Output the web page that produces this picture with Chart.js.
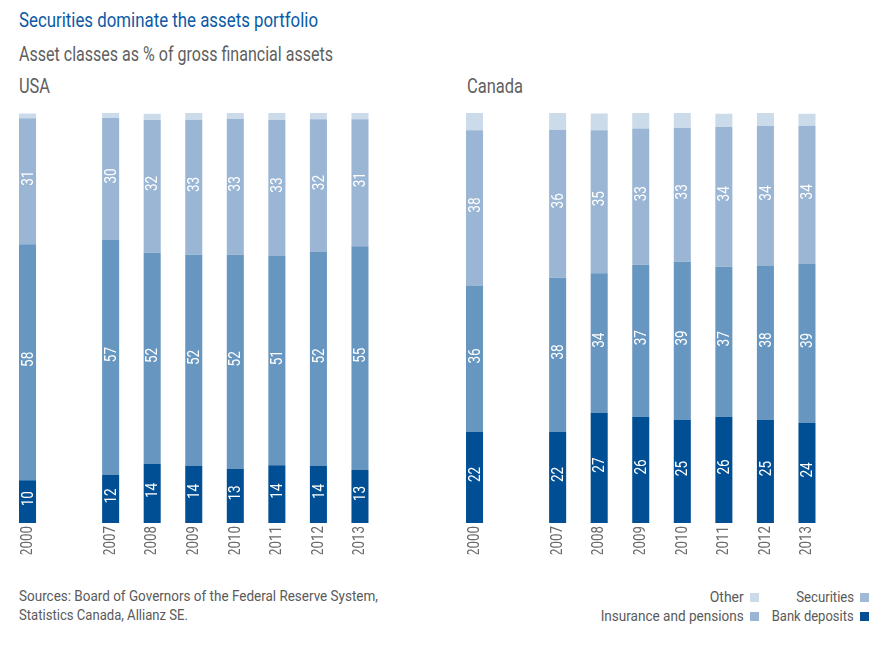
<!DOCTYPE html>
<html>
<head>
<meta charset="utf-8">
<script src="https://cdn.jsdelivr.net/npm/chart.js@4.4.1/dist/chart.umd.min.js"></script>
<style>
  html, body { margin: 0; padding: 0; background: #fff; }
  #wrap { position: relative; width: 888px; height: 645px; overflow: hidden;
          font-family: Roboto, "Liberation Sans", sans-serif; }
  .t { position: absolute; white-space: nowrap; line-height: 1; }
  #title { left: 19px; top: 10px; font-size: 20px; color: #0b5aa6; }
  #sub { left: 19px; top: 44px; font-size: 20px; color: #606060; }
  #usa { left: 19px; top: 76px; font-size: 20px; color: #606060; }
  #can { left: 467px; top: 76px; font-size: 20px; color: #606060; }
  #src1 { left: 19px; top: 589px; font-size: 15.5px; color: #5a5a5a; }
  #src2 { left: 19px; top: 608px; font-size: 15.5px; color: #5a5a5a; }
  .box { position: absolute; }
  #cUS { position: absolute; left: 0; top: 100px; }
  #cCA { position: absolute; left: 444px; top: 100px; }
  .lg { position: absolute; font-size: 15.5px; color: #5a5a5a; white-space: nowrap; line-height: 1; }
  .sq { position: absolute; width: 9px; height: 9px; }
</style>
</head>
<body>
<div id="wrap">
  <div class="t" id="title">Securities dominate the assets portfolio</div>
  <div class="t" id="sub">Asset classes as % of gross financial assets</div>
  <div class="t" id="usa">USA</div>
  <div class="t" id="can">Canada</div>
  <div class="box" id="cUS" style="width:390px;height:470px;"><canvas id="us"></canvas></div>
  <div class="box" id="cCA" style="width:390px;height:470px;"><canvas id="ca"></canvas></div>
  <div class="t" id="src1">Sources: Board of Governors of the Federal Reserve System,</div>
  <div class="t" id="src2">Statistics Canada, Allianz SE.</div>
  <div id="legend"></div>
</div>
<script>
const FONT = 'Roboto, "Liberation Sans", sans-serif';

// Categories (empty slot between 2000 and 2007)
const years = ['2000', '', '2007', '2008', '2009', '2010', '2011', '2012', '2013'];

// USA, % of gross financial assets
const usBank  = [10.4, null, 11.7, 14.4, 13.9, 13.2, 14.1, 13.9, 12.9];
const usSec   = [57.6, null, 57.3, 51.5, 51.5, 52.2, 51.0, 52.2, 54.6];
const usIns   = [30.7, null, 29.8, 32.4, 32.9, 33.2, 33.2, 32.4, 31.0];
const usOther = [1.2,  null, 1.2,  1.5,  1.7,  1.5,  1.7,  1.5,  1.5];

// Canada, % of gross financial assets
const caBank  = [22.2, null, 22.2, 26.8, 25.9, 25.1, 25.9, 25.1, 24.4];
const caSec   = [35.6, null, 37.6, 34.1, 37.1, 38.6, 36.6, 37.6, 38.8];
const caIns   = [38.0, null, 36.1, 34.9, 33.2, 32.7, 34.1, 34.1, 33.7];
const caOther = [4.2,  null, 4.1,  4.1,  3.9,  3.7,  3.2,  3.2,  2.9];

const seriesNames = ['Bank deposits', 'Securities', 'Insurance and pensions', 'Other'];
const colors = ['#004f94', '#6796c1', '#9ab6d4', '#ccdbea'];

const TICK_SQUEEZE = 0.78;   // emulate the condensed typeface of the original
const LABEL_SQUEEZE = 0.82;

const barLabels = {
  id: 'barLabels',
  afterDatasetsDraw(chart) {
    const ctx = chart.ctx;
    ctx.save();
    ctx.font = '16.5px ' + FONT;
    ctx.fillStyle = '#ffffff';
    ctx.textAlign = 'center';
    ctx.textBaseline = 'middle';
    chart.data.datasets.forEach((ds, di) => {
      if (!ds.showValue) return;
      chart.getDatasetMeta(di).data.forEach((el, i) => {
        const v = ds.data[i];
        if (v == null) return;
        const p = el.getProps(['x', 'y', 'base'], true);
        ctx.save();
        ctx.translate(p.x + 1, (p.y + p.base) / 2 - 3);
        ctx.rotate(-Math.PI / 2);
        ctx.scale(LABEL_SQUEEZE, 1);
        ctx.fillText(String(Math.round(v)), 0, 0);
        ctx.restore();
      });
    });
    ctx.restore();
  }
};

const condenseTicks = {
  id: 'condenseTicks',
  beforeDraw(chart) {
    const sc = chart.scales.x;
    if (sc && !sc._condensed) {
      const orig = sc.drawLabels;
      sc.drawLabels = function (area) {
        const ctx = this.ctx;
        ctx.save();
        ctx.translate(0, this.top);
        ctx.scale(1, TICK_SQUEEZE);
        ctx.translate(0, -this.top);
        orig.call(this, area);
        ctx.restore();
      };
      sc._condensed = true;
    }
  }
};

function makeChart(id, data, pad) {
  const datasets = data.map((d, i) => ({
    label: seriesNames[i],
    data: d,
    backgroundColor: colors[i],
    borderWidth: 0,
    barPercentage: 0.41,
    categoryPercentage: 1,
    showValue: i < 3
  }));
  return new Chart(document.getElementById(id), {
    type: 'bar',
    data: { labels: years, datasets },
    plugins: [barLabels, condenseTicks],
    options: {
      responsive: true,
      maintainAspectRatio: false,
      animation: false,
      layout: { padding: pad },
      plugins: { legend: { display: false }, tooltip: { enabled: false } },
      scales: {
        x: {
          stacked: true,
          grid: { display: false, drawTicks: false },
          border: { display: false },
          afterFit: (s) => { s.height = 40; },
          ticks: {
            autoSkip: false, minRotation: 90, maxRotation: 90, padding: 4,
            color: '#6a6a6a', font: { family: FONT, size: 17 }
          }
        },
        y: { stacked: true, min: 0, max: 100, display: false }
      }
    }
  });
}

makeChart('us', [usBank, usSec, usIns, usOther], { left: 6.75, right: 9.25, top: 13, bottom: 7 });
makeChart('ca', [caBank, caSec, caIns, caOther], { left: 9.75, right: 6.25, top: 13, bottom: 7 });

// Legend (two rows, text right-aligned before its square), as in the reference
const legendItems = [
  { name: 'Other', color: '#ccdbea', right: 744, w: 34, sq: 750, top: 590 },
  { name: 'Securities', color: '#9fb9d6', right: 854, w: 58, sq: 860, top: 590 },
  { name: 'Insurance and pensions', color: '#9ab6d4', right: 744, w: 143, sq: 750, top: 609 },
  { name: 'Bank deposits', color: '#004f94', right: 854, w: 82, sq: 860, top: 609 }
];
const lg = document.getElementById('legend');
function fitWidth(el, target, origin) {
  const w = el.getBoundingClientRect().width;
  if (w > 0) {
    el.style.transformOrigin = origin;
    el.style.transform = 'scaleX(' + (target / w) + ')';
  }
}
legendItems.forEach(it => {
  const t = document.createElement('div');
  t.className = 'lg';
  t.textContent = it.name;
  t.style.right = (888 - it.right) + 'px';
  t.style.top = it.top + 'px';
  lg.appendChild(t);
  fitWidth(t, it.w, 'right center');
  const s = document.createElement('div');
  s.className = 'sq';
  s.style.left = it.sq + 'px';
  s.style.top = (it.top + 3) + 'px';
  s.style.background = it.color;
  lg.appendChild(s);
});
fitWidth(document.getElementById('title'), 299, 'left center');
fitWidth(document.getElementById('sub'), 314, 'left center');
fitWidth(document.getElementById('usa'), 31, 'left center');
fitWidth(document.getElementById('can'), 56, 'left center');
fitWidth(document.getElementById('src1'), 359, 'left center');
fitWidth(document.getElementById('src2'), 169, 'left center');
</script>
</body>
</html>
